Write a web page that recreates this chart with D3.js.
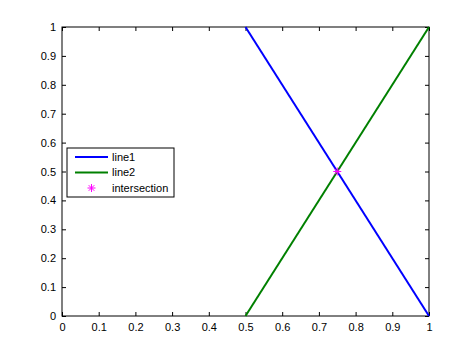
<!DOCTYPE html>
<html>
<head>
<meta charset="utf-8">
<script src="https://cdn.jsdelivr.net/npm/d3@7"></script>
<style>
  body { margin: 0; background: #fff; }
  text { font-family: "Liberation Sans", Arial, sans-serif; font-size: 11px; fill: #000; }
</style>
</head>
<body>
<div id="container"></div>
<script>
// chart data
let line1X = [0.5, 1];
let line1Y = [1, 0];
let line2X = [0.5, 1];
let line2Y = [0, 1];
let interX = [0.75];
let interY = [0.5];
let xTicks = [0, 0.1, 0.2, 0.3, 0.4, 0.5, 0.6, 0.7, 0.8, 0.9, 1];
let yTicks = [0, 0.1, 0.2, 0.3, 0.4, 0.5, 0.6, 0.7, 0.8, 0.9, 1];
let legendNames = ["line1", "line2", "intersection"];

let w = 474;
let h = 355;
let padLeft = 62, padRight = 429, padTop = 27, padBottom = 316;

let viz = d3.select("#container")
  .append("svg")
    .attr("width", w)
    .attr("height", h);

let xScale = d3.scaleLinear().domain([0, 1]).range([padLeft, padRight]);
let yScale = d3.scaleLinear().domain([0, 1]).range([padBottom, padTop]);

// axes with inward ticks
let xAxis = d3.axisBottom(xScale).tickValues(xTicks).tickSize(-4).tickPadding(7).tickFormat(d3.format("~g"));
let yAxis = d3.axisLeft(yScale).tickValues(yTicks).tickSize(-4).tickPadding(6).tickFormat(d3.format("~g"));
let xTop = d3.axisTop(xScale).tickValues(xTicks).tickSize(-4).tickFormat("");
let yRight = d3.axisRight(yScale).tickValues(yTicks).tickSize(-4).tickFormat("");

function styleAxis(g){
  g.select(".domain").remove();
  g.selectAll("line").attr("stroke", "#000");
  g.selectAll("text").attr("font-size", null).attr("font-family", null);
}

viz.append("g").attr("transform", "translate(0," + padBottom + ")").call(xAxis).call(styleAxis);
viz.append("g").attr("transform", "translate(" + padLeft + ",0)").call(yAxis).call(styleAxis);
viz.append("g").attr("transform", "translate(0," + padTop + ")").call(xTop).call(styleAxis);
viz.append("g").attr("transform", "translate(" + padRight + ",0)").call(yRight).call(styleAxis);

// box
viz.append("rect")
  .attr("x", padLeft).attr("y", padTop)
  .attr("width", padRight - padLeft).attr("height", padBottom - padTop)
  .attr("fill", "none").attr("stroke", "#000").attr("stroke-width", 1);

let line = d3.line().x(d => xScale(d[0])).y(d => yScale(d[1]));

viz.append("path")
  .datum(line1X.map((x, i) => [x, line1Y[i]]))
  .attr("d", line).attr("fill", "none").attr("stroke", "#0000ff").attr("stroke-width", 2);
viz.append("path")
  .datum(line2X.map((x, i) => [x, line2Y[i]]))
  .attr("d", line).attr("fill", "none").attr("stroke", "#008000").attr("stroke-width", 2);

// asterisk marker
function asterisk(g, cx, cy, r){
  let a = g.append("g").attr("transform", "translate(" + cx + "," + cy + ")")
    .attr("stroke", "#ff00ff").attr("stroke-width", 1);
  a.append("line").attr("x1", -r).attr("x2", r).attr("y1", 0).attr("y2", 0);
  a.append("line").attr("x1", 0).attr("x2", 0).attr("y1", -r).attr("y2", r);
  a.append("line").attr("x1", -r * 0.7).attr("x2", r * 0.7).attr("y1", -r * 0.7).attr("y2", r * 0.7);
  a.append("line").attr("x1", -r * 0.7).attr("x2", r * 0.7).attr("y1", r * 0.7).attr("y2", -r * 0.7);
}
interX.forEach((x, i) => asterisk(viz, xScale(x), yScale(interY[i]), 4));

// legend
let lg = viz.append("g").attr("transform", "translate(67,148)");
lg.append("rect").attr("width", 107).attr("height", 49)
  .attr("fill", "#fff").attr("stroke", "#000").attr("stroke-width", 1);
let legendColors = ["#0000ff", "#008000", "#ff00ff"];
legendNames.forEach((name, i) => {
  let yy = 9 + i * 15.5;
  if (i < 2) {
    lg.append("line").attr("x1", 8).attr("x2", 41).attr("y1", yy).attr("y2", yy)
      .attr("stroke", legendColors[i]).attr("stroke-width", 2);
  } else {
    asterisk(lg, 24.5, yy, 4);
  }
  lg.append("text").attr("x", 45).attr("y", yy).attr("dy", "0.35em").text(name);
});
</script>
</body>
</html>
